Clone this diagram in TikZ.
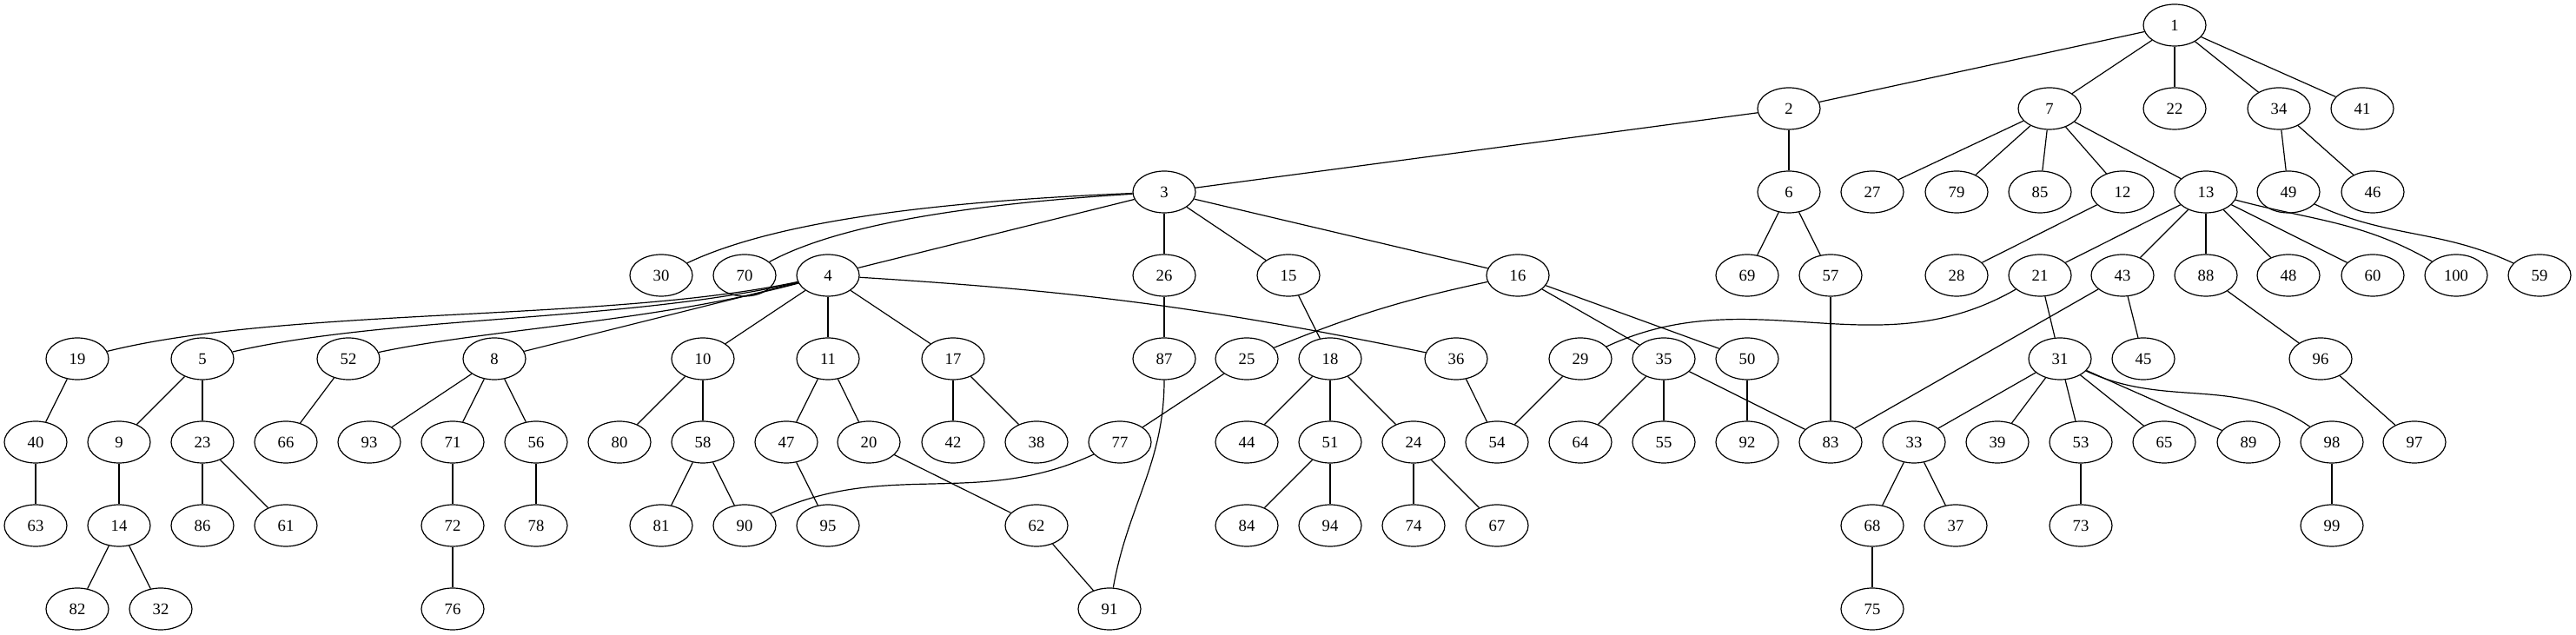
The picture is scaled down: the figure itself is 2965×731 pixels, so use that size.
\documentclass[tikz,border=0pt]{standalone}
\usepackage{fontspec}
\setmainfont{Liberation Serif}
\usetikzlibrary{shapes.geometric}
\begin{document}
\begin{tikzpicture}[x=0.75pt,y=0.75pt,line width=0.9pt,
    vtx/.style={draw,ellipse,minimum width=54pt,minimum height=36pt,inner sep=0pt,
      font=\fontsize{14}{16}\selectfont}]
    \useasboundingbox (0,0) rectangle (2965,731);
    \foreach \n/\x in {1/2503}
      \node[vtx] (n\n) at (\x,702) {\n};
    \foreach \n/\x in {2/2059,7/2359,22/2503,34/2623,41/2719}
      \node[vtx] (n\n) at (\x,606) {\n};
    \foreach \n/\x in {3/1340,6/2059,27/2155,79/2252,85/2348,12/2443,13/2539,49/2634,46/2731}
      \node[vtx] (n\n) at (\x,510) {\n};
    \foreach \n/\x in {30/761,70/857,4/953,26/1340,15/1483,16/1747,69/2011,57/2107,
        28/2252,21/2348,43/2443,88/2539,48/2634,60/2731,100/2827,59/2923}
      \node[vtx] (n\n) at (\x,414) {\n};
    \foreach \n/\x in {19/89,5/233,52/401,8/569,10/809,11/953,17/1097,87/1340,25/1435,
        18/1531,36/1676,29/1819,35/1915,50/2011,31/2371,45/2467,96/2671}
      \node[vtx] (n\n) at (\x,318) {\n};
    \foreach \n/\x in {40/41,9/137,23/233,66/329,93/425,71/521,56/617,80/713,58/809,
        47/905,20/1000,42/1097,38/1193,77/1289,44/1435,51/1531,24/1627,54/1723,64/1819,
        55/1915,92/2011,83/2107,33/2203,39/2299,53/2395,65/2491,89/2588,98/2684,97/2779}
      \node[vtx] (n\n) at (\x,222) {\n};
    \foreach \n/\x in {63/41,14/137,86/233,61/329,72/521,78/617,81/761,90/857,95/953,
        62/1193,84/1435,94/1531,74/1627,67/1723,68/2155,37/2251,73/2395,99/2684}
      \node[vtx] (n\n) at (\x,126) {\n};
    \foreach \n/\x in {82/89,32/185,76/521,91/1277,75/2155}
      \node[vtx] (n\n) at (\x,30) {\n};
    \foreach \a/\b in {1/2,1/7,1/22,1/34,1/41,2/3,2/6,7/27,7/79,7/85,7/12,7/13,34/49,34/46,
        3/4,3/26,3/15,3/16,6/69,6/57,12/28,13/21,13/43,13/88,13/48,13/60,
        4/8,4/10,4/11,4/17,26/87,15/18,16/35,16/50,57/83,21/31,43/83,43/45,88/96,
        19/40,5/9,5/23,52/66,8/93,8/71,8/56,10/80,10/58,11/47,11/20,17/42,17/38,25/77,
        18/44,18/51,18/24,36/54,29/54,35/64,35/55,35/83,50/92,31/33,31/39,31/53,31/65,
        31/89,96/97,40/63,9/14,23/86,23/61,71/72,56/78,58/81,58/90,47/95,20/62,51/84,
        51/94,24/74,24/67,33/68,33/37,53/73,98/99,14/82,14/32,72/76,62/91,68/75}
      \draw (n\a) -- (n\b);
    \draw (n3) .. controls (1100,500) and (900,480) .. (n30);
    \draw (n3) .. controls (1100,495) and (960,470) .. (n70);
    \draw (n4) .. controls (700,360) and (330,378) .. (n19);
    \draw (n4) .. controls (720,360) and (450,368) .. (n5);
    \draw (n4) .. controls (750,360) and (560,352) .. (n52);
    \draw (n4) to[bend left=4] (n36);
    \draw (n16) to[bend right=5] (n25);
    \draw (n87) to[out=-90,in=80] (n91);
    \draw (n77) to[out=205,in=25] (n90);
    \draw (n21) to[out=210,in=25] (n29);
    \draw (n31) to[out=-25,in=145] (n98);
    \draw (n13) to[out=-15,in=150] (n100);
    \draw (n49) to[out=-25,in=155] (n59);
\end{tikzpicture}
\end{document}
